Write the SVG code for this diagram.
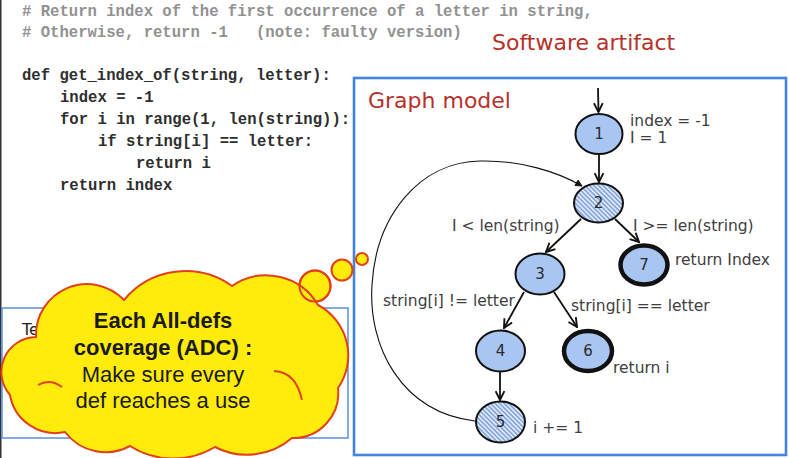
<svg xmlns="http://www.w3.org/2000/svg" width="789" height="458" viewBox="0 0 789 458">
  <defs>
    <style>
      .code { font-family: "Liberation Mono", "DejaVu Sans Mono", monospace; font-size: 15.6px; font-weight: bold; fill: #2e2e2e; }
      .comment { fill: #919191; }
      .title { font-family: "DejaVu Sans", Verdana, sans-serif; font-size: 22px; fill: #b8312a; }
      .lbl { font-family: "DejaVu Sans", Verdana, sans-serif; font-size: 15.5px; fill: #404040; }
      .num { font-family: "DejaVu Sans", Verdana, sans-serif; font-size: 15px; fill: #2a2a2a; text-anchor: middle; }
      .node { fill: #a9c5f1; stroke: #111; stroke-width: 2; }
      .hatched { fill: url(#hatch); stroke: #111; stroke-width: 2; }
      .final { fill: #a9c5f1; stroke: #111; stroke-width: 4.5; }
      .edge { fill: none; stroke: #111; stroke-width: 1.8; marker-end: url(#arrow); }
      .back { fill: none; stroke: #111; stroke-width: 1.1; marker-end: url(#arrowSmall); }
      .cloud { fill: #ffec0c; stroke: #e2401c; stroke-width: 2; }
      .cloudline { fill: none; stroke: #e2401c; stroke-width: 2; }
      .ctext { font-family: "Liberation Sans", Arial, sans-serif; font-size: 22px; fill: #1a1a1a; text-anchor: middle; }
    </style>
    <pattern id="hatch" patternUnits="userSpaceOnUse" width="3.2" height="3.2" patternTransform="rotate(-45)">
      <rect width="3.2" height="3.2" fill="#dfe9f9"/>
      <line x1="0.8" y1="0" x2="0.8" y2="3.2" stroke="#7fa2da" stroke-width="1.5"/>
    </pattern>
    <marker id="arrow" markerUnits="userSpaceOnUse" viewBox="0 0 10 10" refX="9" refY="5" markerWidth="11" markerHeight="11" orient="auto">
      <path d="M1,1 L9,5 L1,9" fill="none" stroke="#111" stroke-width="1.7"/>
    </marker>
    <marker id="arrowSmall" markerUnits="userSpaceOnUse" viewBox="0 0 10 10" refX="9" refY="5" markerWidth="8" markerHeight="8" orient="auto">
      <path d="M1,1 L9,5 L1,9 Z" fill="#111" stroke="#111" stroke-width="1"/>
    </marker>
  </defs>

  <rect width="789" height="458" fill="#fff"/>
  <rect x="0" y="0" width="1.5" height="458" fill="#333"/>

  <!-- source code -->
  <g id="code">
    <text class="code comment" x="22" y="16"># Return index of the first occurrence of a letter in string,</text>
    <text class="code comment" x="22" y="37" xml:space="preserve"># Otherwise, return -1   (note: faulty version)</text>
    <text class="code" x="22" y="80">def get_index_of(string, letter):</text>
    <text class="code" x="60" y="102">index = -1</text>
    <text class="code" x="60" y="124">for i in range(1, len(string)):</text>
    <text class="code" x="98" y="146">if string[i] == letter:</text>
    <text class="code" x="136" y="168">return i</text>
    <text class="code" x="60" y="190">return index</text>
  </g>

  <text id="software-artifact" class="title" x="492" y="50">Software artifact</text>

  <!-- test box (mostly hidden by the callout) -->
  <g id="test-box">
    <rect x="2" y="308" width="346" height="130" fill="#fff" stroke="#5d8ddb" stroke-width="1.5"/>
    <text x="22" y="335" font-family="DejaVu Sans, sans-serif" font-size="16" fill="#222">Te</text>
  </g>

  <!-- graph model panel -->
  <g id="graph-model">
    <rect x="354" y="78" width="432" height="377" fill="#fff" stroke="#4483de" stroke-width="2.6"/>
    <text class="title" x="368" y="108">Graph model</text>
  </g>

  <!-- connectors -->
  <g id="connectors">
    <path class="edge" d="M598,88 L598.5,112"/>
    <path class="edge" d="M599,154 L599,182"/>
    <path class="edge" d="M581,219 L546,252"/>
    <path class="edge" d="M615,219 L639,242"/>
    <path class="edge" d="M524,292 L504,328"/>
    <path class="edge" d="M554,292 L577,327"/>
    <path class="edge" d="M500,372 L500,400"/>
    <path class="back" d="M475,421 C400,412 368,345 372,285 C376,215 420,162 480,161 C520,160 558,172 582,186"/>
  </g>

  <!-- nodes -->
  <g id="node1">
    <ellipse class="node" cx="599" cy="134" rx="23.5" ry="20"/>
    <text class="num" x="599" y="139">1</text>
    <text class="lbl" x="630" y="126">index = -1</text>
    <text class="lbl" x="630" y="143">I = 1</text>
  </g>
  <g id="node2">
    <ellipse class="hatched" cx="598.5" cy="203" rx="24.5" ry="19.5"/>
    <text class="num" x="598.5" y="208">2</text>
    <text class="lbl" x="452" y="231">I &lt; len(string)</text>
    <text class="lbl" x="633" y="231">I &gt;= len(string)</text>
  </g>
  <g id="node3">
    <ellipse class="node" cx="540" cy="274" rx="24.5" ry="20.5"/>
    <text class="num" x="540" y="279">3</text>
    <text class="lbl" x="383" y="306">string[i] != letter</text>
    <text class="lbl" x="571" y="311">string[i] == letter</text>
  </g>
  <g id="node4">
    <ellipse class="node" cx="500.5" cy="351" rx="24.5" ry="20.5"/>
    <text class="num" x="500.5" y="356">4</text>
  </g>
  <g id="node5">
    <ellipse class="hatched" cx="500.5" cy="422" rx="24.5" ry="20.5"/>
    <text class="num" x="500.5" y="427">5</text>
    <text class="lbl" x="533" y="433">i += 1</text>
  </g>
  <g id="node6">
    <ellipse class="final" cx="588" cy="351" rx="24" ry="20"/>
    <text class="num" x="588" y="356">6</text>
    <text class="lbl" x="613" y="373">return i</text>
  </g>
  <g id="node7">
    <ellipse class="final" cx="644" cy="265" rx="23.5" ry="19.5"/>
    <text class="num" x="644" y="270">7</text>
    <text class="lbl" x="675" y="265">return Index</text>
  </g>

  <!-- thought-bubble callout -->
  <g id="callout">
    <circle class="cloud" cx="362" cy="259" r="6"/>
    <circle class="cloud" cx="342" cy="270" r="10.5"/>
    <circle class="cloud" cx="315" cy="286" r="15.5"/>
    <path class="cloud" d="M10,395 A35,35 0 0 1 36,337 A51,51 0 0 1 124,300 A80,80 0 0 1 232,286 A60,60 0 0 1 318,305 A57,57 0 0 1 338,388 A45,45 0 0 1 292,438 A69,69 0 0 1 215,447 A81,81 0 0 1 130,446 A51,51 0 0 1 65,432 A46,46 0 0 1 10,395 Z"/>
    <circle class="cloudline" cx="315" cy="286" r="15.5"/>
    <path class="cloudline" d="M38,385 Q50,378 62,387"/>
    <path class="cloudline" d="M274,371 Q296,372 302,400"/>
    <text class="ctext" x="163" y="328" font-weight="bold">Each All-defs</text>
    <text class="ctext" x="163" y="355" font-weight="bold">coverage (ADC) :</text>
    <text class="ctext" x="163" y="382">Make sure every</text>
    <text class="ctext" x="163" y="408">def reaches a use</text>
  </g>
</svg>
